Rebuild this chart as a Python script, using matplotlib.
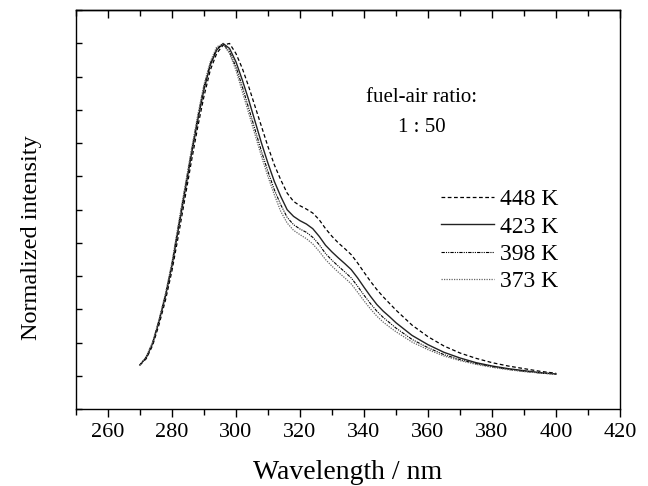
import numpy as np
import matplotlib
matplotlib.use("Agg")
import matplotlib.pyplot as plt
from matplotlib.ticker import MultipleLocator

plt.rcParams['font.family'] = ['Liberation Serif', 'DejaVu Serif']

# wavelength grid (nm)
wavelength = [270, 272, 274, 276, 278, 280, 282, 284, 286, 288, 290, 292, 294, 296, 298,
              300, 302, 304, 306, 308, 310, 312, 314, 316, 318, 320, 322, 324, 326, 328,
              330, 332, 334, 336, 338, 340, 342, 344, 346, 348, 350, 355, 360, 365, 370,
              375, 380, 385, 390, 395, 400]

# normalized LIF spectra
int_448 = [0.033, 0.052, 0.092, 0.155, 0.228, 0.315, 0.42, 0.53, 0.64, 0.745, 0.84, 0.92, 0.97, 0.995, 1.0,
           0.97, 0.925, 0.87, 0.81, 0.75, 0.69, 0.635, 0.59, 0.55, 0.525, 0.512, 0.502, 0.49, 0.47, 0.443,
           0.42, 0.40, 0.383, 0.365, 0.34, 0.312, 0.285, 0.26, 0.238, 0.218, 0.198, 0.153, 0.118, 0.09, 0.069,
           0.053, 0.04, 0.03, 0.022, 0.014, 0.008]
int_423 = [0.033, 0.055, 0.098, 0.165, 0.24, 0.33, 0.44, 0.55, 0.66, 0.765, 0.86, 0.935, 0.98, 1.0, 0.985,
           0.945, 0.89, 0.83, 0.765, 0.70, 0.64, 0.585, 0.54, 0.50, 0.48, 0.467, 0.457, 0.443, 0.42, 0.393,
           0.373, 0.355, 0.338, 0.32, 0.295, 0.267, 0.24, 0.215, 0.195, 0.178, 0.16, 0.122, 0.094, 0.071, 0.054,
           0.04, 0.03, 0.022, 0.016, 0.01, 0.006]
int_398 = [0.033, 0.057, 0.1, 0.168, 0.245, 0.337, 0.45, 0.56, 0.67, 0.775, 0.87, 0.94, 0.985, 0.998, 0.975,
           0.93, 0.87, 0.805, 0.74, 0.675, 0.615, 0.56, 0.515, 0.477, 0.455, 0.442, 0.432, 0.417, 0.395, 0.368,
           0.348, 0.33, 0.313, 0.295, 0.27, 0.243, 0.218, 0.195, 0.176, 0.16, 0.144, 0.11, 0.085, 0.064, 0.049,
           0.037, 0.028, 0.02, 0.014, 0.009, 0.005]
int_373 = [0.033, 0.058, 0.102, 0.17, 0.248, 0.34, 0.455, 0.565, 0.675, 0.78, 0.875, 0.945, 0.99, 0.998, 0.97,
           0.92, 0.855, 0.79, 0.725, 0.66, 0.60, 0.545, 0.495, 0.46, 0.438, 0.425, 0.413, 0.397, 0.375, 0.35,
           0.33, 0.312, 0.295, 0.277, 0.252, 0.226, 0.202, 0.18, 0.162, 0.147, 0.133, 0.102, 0.079, 0.06, 0.046,
           0.035, 0.026, 0.019, 0.013, 0.009, 0.005]

labels = ['448 K', '423 K', '398 K', '373 K']

fig = plt.figure(figsize=(6.48, 4.86), dpi=100)
ax = fig.add_axes([0.117, 0.158, 0.840, 0.821])

ax.plot(wavelength, int_448, color='black', lw=0.9, ls=(0, (3, 2)), label=labels[0])
ax.plot(wavelength, int_423, color='#222222', lw=1.0, ls='-', label=labels[1])
ax.plot(wavelength, int_398, color='black', lw=0.8, ls=(0, (3, 1, 1, 1, 1, 1)), label=labels[2])
ax.plot(wavelength, int_373, color='#666666', lw=0.9, ls=(0, (1, 1)), label=labels[3])

ax.set_xlim(250, 420)
ax.set_ylim(-0.1, 1.1)

# x ticks: outward on the bottom, inward on top
ax.xaxis.set_major_locator(MultipleLocator(20))
ax.xaxis.set_minor_locator(MultipleLocator(10))
ax.tick_params(axis='x', which='major', direction='out', length=6, width=1, labelsize=16, pad=4, top=False)
ax.tick_params(axis='x', which='minor', direction='out', length=4, width=1, top=False)
ax.xaxis.set_ticks_position('bottom')
sec = ax.secondary_xaxis('top')
sec.xaxis.set_major_locator(MultipleLocator(20))
sec.xaxis.set_minor_locator(MultipleLocator(10))
sec.tick_params(axis='x', which='major', direction='in', length=6, width=1, labeltop=False)
sec.tick_params(axis='x', which='minor', direction='in', length=4, width=1)
sec.spines['top'].set_linewidth(1.0)

# y ticks: inward, unlabeled
ax.yaxis.set_major_locator(MultipleLocator(0.1))
ax.tick_params(axis='y', which='major', direction='in', length=4, width=1, labelleft=False, right=False)

for s in ax.spines.values():
    s.set_linewidth(1.0)

ax.set_xlabel('Wavelength / nm', fontsize=20, labelpad=13)
ax.set_ylabel('Normalized intensity', fontsize=17.5)
ax.yaxis.set_label_coords(-0.063, 0.43)

ax.text(0.635, 0.744, 'fuel-air ratio:\n1 : 50', transform=ax.transAxes, ha='center', va='center',
        multialignment='center', fontsize=15, linespacing=1.75)

ax.legend(loc='upper left', bbox_to_anchor=(0.67, 0.553), frameon=False, fontsize=17,
          handlelength=2.25, handletextpad=0.25, labelspacing=0.25, borderpad=0, borderaxespad=0)

fig.savefig('out.png', dpi=100)
